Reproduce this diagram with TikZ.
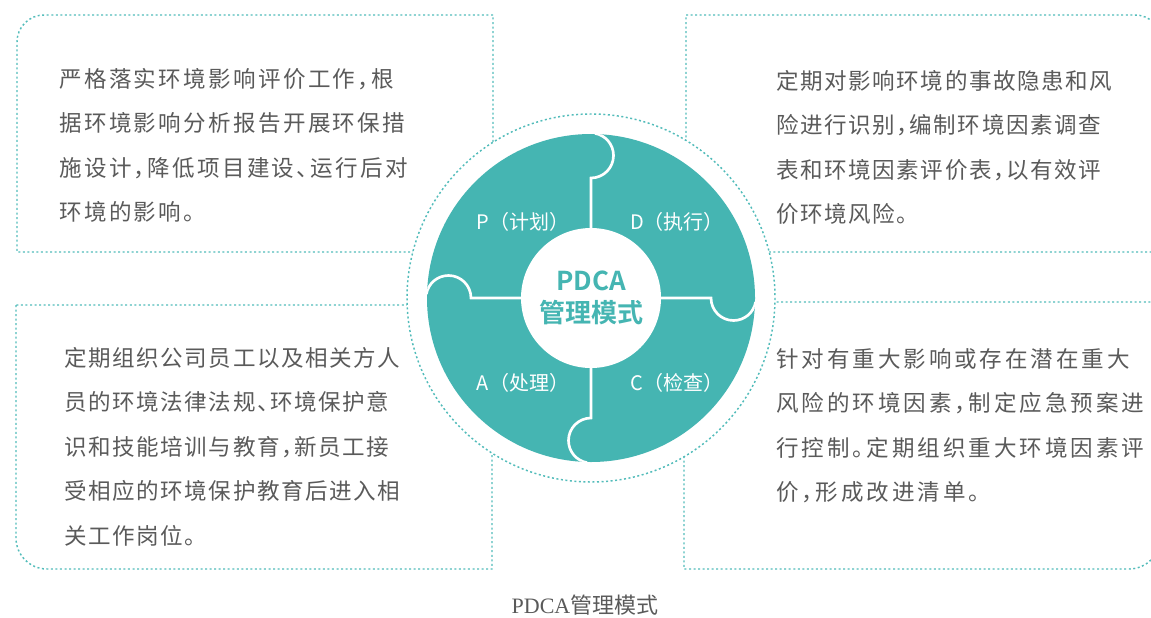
\documentclass[tikz,border=0pt]{standalone}
\usepackage{fontspec}
\usepackage{xcolor}
\newfontfamily\cjk[BoldFont={Noto Sans CJK SC Bold}]{Noto Sans CJK SC}
\newfontfamily\capserif{Liberation Serif}
\definecolor{pdcateal}{HTML}{45B5B2}
\definecolor{dotteal}{HTML}{52BCBA}
\definecolor{bodygray}{HTML}{5A5A5A}

\begin{document}
\begin{tikzpicture}[x=0.75pt,y=-0.75pt,
  boxline/.style={draw=dotteal,line width=1.1pt,dash pattern=on 1.5pt off 1.9pt},
  seam/.style={draw=white,line width=2pt},
  quadlabel/.style={text=white,inner sep=0,font=\cjk\fontsize{15}{18}\selectfont},
  boxtext/.style={anchor=north west,align=left,inner sep=0,text=bodygray,
    font=\cjk\addfontfeatures{LetterSpace=#1,RawFeature=+halt}\fontsize{16.9}{33.4}\selectfont}]
  \useasboundingbox (0,0) rectangle (1151,617);
  \clip (0,0) rectangle (1151,617);
  \coordinate (O) at (591,298);
  % text boxes, one rounded corner each
  \draw[boxline] (493,15) -- (44,15) arc[start angle=270,end angle=180,radius=27] -- (17,252) -- (493,252) -- cycle;
  \draw[boxline] (686,15) -- (1135,15) arc[start angle=270,end angle=360,radius=27] -- (1162,252) -- (686,252) -- cycle;
  \draw[boxline] (16,305) -- (16,538) arc[start angle=180,end angle=90,radius=31] -- (492,569) -- (492,305) -- cycle;
  \draw[boxline] (684,302) -- (684,569) -- (1129,569) arc[start angle=90,end angle=0,radius=31] -- (1160,302) -- cycle;
  % ring and puzzle disc
  \fill[white] (O) circle (184);
  \draw[boxline] (O) circle (184);
  \fill[pdcateal] (O) circle (164);
  \begin{scope}
    \clip (O) circle (164);
    \foreach \a in {0,90,180,270}
      \draw[seam,shift={(O)},rotate=\a] (0,-70) -- (0,-120) arc[start angle=90,end angle=-80,radius=22.5];
  \end{scope}
  \node[circle,fill=white,minimum size=105pt,inner sep=0,align=center,text=pdcateal,
    font=\cjk\bfseries\fontsize{19.5}{24}\selectfont] (hub) at (O) {PDCA\\管理模式};
  \node[quadlabel] (plan) at (523,222) {P（计划）};
  \node[quadlabel] (do) at (677,222) {D（执行）};
  \node[quadlabel] (act) at (523,383) {A（处理）};
  \node[quadlabel] (check) at (677,383) {C（检查）};
  \node[boxtext=10.4] (plantext) at (59,68) {严格落实环境影响评价工作，根\\据环境影响分析报告开展环保措\\施设计，降低项目建设、运行后对\\环境的影响。};
  \node[boxtext=7] (dotext) at (776,70) {定期对影响环境的事故隐患和风\\险进行识别，编制环境因素调查\\表和环境因素评价表，以有效评\\价环境风险。};
  \node[boxtext=7] (acttext) at (64,347) {定期组织公司员工以及相关方人\\员的环境法律法规、环境保护意\\识和技能培训与教育，新员工接\\受相应的环境保护教育后进入相\\关工作岗位。};
  \node[boxtext=13] (checktext) at (776,348) {针对有重大影响或存在潜在重大\\风险的环境因素，制定应急预案进\\行控制。定期组织重大环境因素评\\价，形成改进清单。};
  \node[text=bodygray,inner sep=0,font=\fontsize{16.5}{19}\selectfont] (caption) at (585,605) {\capserif PDCA\cjk 管理模式};
\end{tikzpicture}
\end{document}
